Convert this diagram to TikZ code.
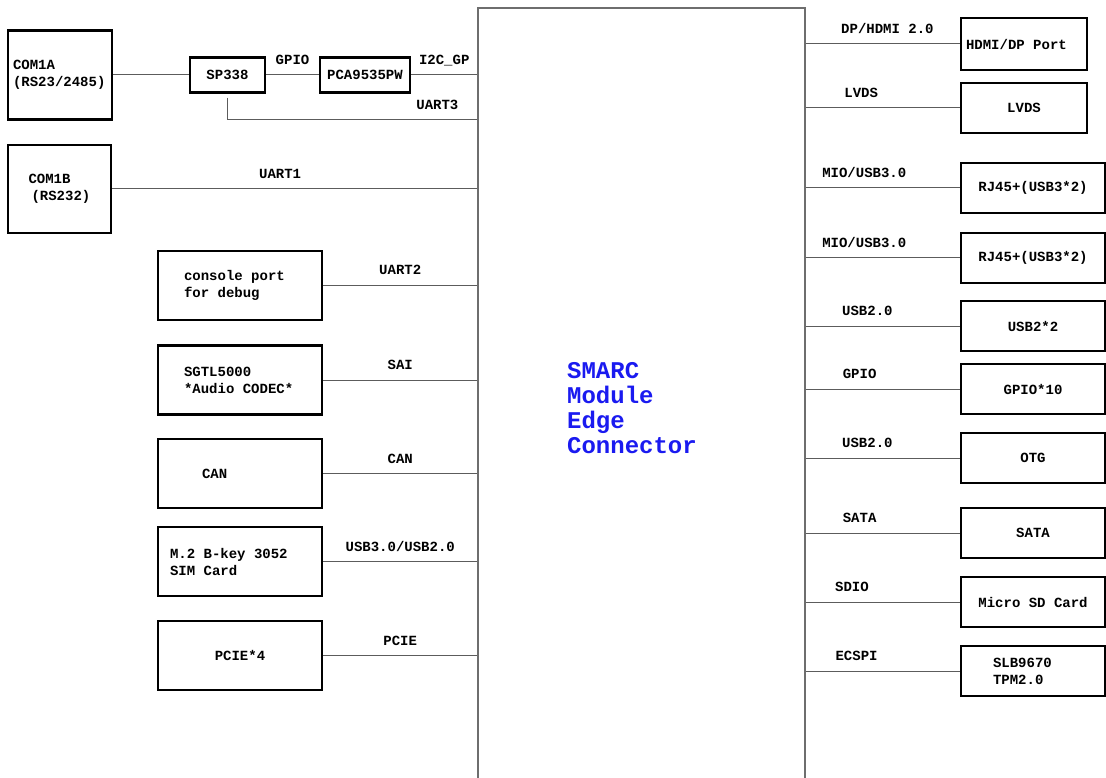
\documentclass[tikz,border=0pt]{standalone}
\usepackage{fontspec}
\newfontfamily\courfont[WordSpace={1,0,0}]{Liberation Mono}
\usetikzlibrary{positioning}
\definecolor{cwire}{HTML}{5C5C5C}
\definecolor{cframe}{HTML}{6E6E6E}
\definecolor{cblue}{HTML}{1A1AF0}
\newcommand{\lblfont}{\courfont\bfseries\fontsize{14}{17}\selectfont}
\tikzset{
  every picture/.style={x=1pt, y=-1pt},
  blk/.style={draw=black, line width=2.2pt, align=flush left, font=\lblfont, inner sep=4pt},
  lbox/.style={blk, minimum width=164, minimum height=69},
  rbox/.style={blk, minimum width=144, minimum height=50},
  wire/.style={draw=cwire, line width=1pt},
  tag/.style={font=\lblfont, above=6pt, inner sep=1pt, text height=9pt, text depth=3pt},
  conn/.style={draw=cframe, line width=1.3pt},
  title/.style={font=\courfont\bfseries\fontsize{24}{25}\selectfont, text=cblue, align=flush left},
}
\begin{document}
\begin{tikzpicture}
  \useasboundingbox (0,0) rectangle (1106,778);
  % edge connector
  \node[conn, minimum width=327, minimum height=774] (smarc) at (641.5,395) {};
  \node[title] (smarctxt) at (632,408) {SMARC\\Module\\Edge\\Connector};
  % left side
  \node[blk, minimum width=104, minimum height=89, text width=94] (com1a) at (60,75) {COM1A\\(RS23/2485)};
  \node[blk, minimum width=75, minimum height=35] (sp) at (227.5,75) {SP338};
  \node[blk, minimum width=90, minimum height=35] (pca) at (365,75) {PCA9535PW};
  \node[blk, minimum width=103, minimum height=88, text width=62] (com1b) at (59.5,189) {COM1B\\\hspace*{3pt}(RS232)};
  \node[lbox, text width=112] (dbg) at (240,285.5) {console port\\for debug};
  \node[lbox, text width=112] (codec) at (240,380) {SGTL5000\\{}*Audio CODEC*};
  \node[lbox, text width=76] (can) at (240,473.5) {CAN};
  \node[lbox, text width=140] (m2) at (240,561.5) {M.2 B-key 3052\\SIM Card};
  \node[lbox] (pcie) at (240,655.5) {PCIE*4};
  \draw[wire] (com1a) -- (sp);
  \draw[wire] (sp) -- node[tag]{GPIO} (pca);
  \draw[wire] (pca) -- node[tag]{I2C\_GP} (pca -| smarc.west);
  \draw[wire] ([yshift=-4pt]sp.south) |- node[tag, pos=0.92]{UART3} (smarc.west |- 0,120);
  \draw[wire] (com1b) -- node[tag, pos=0.46]{UART1} (com1b -| smarc.west);
  \foreach \b/\t in {dbg/UART2, codec/SAI, can/CAN, m2/{USB3.0/USB2.0}, pcie/PCIE}
    \draw[wire] (\b) -- node[tag]{\t} (\b -| smarc.west);
  % right side
  \node[blk, minimum width=126, minimum height=52, text width=116] (hdmi) at (1024,44) {HDMI/DP Port};
  \node[blk, minimum width=126, minimum height=50] (lvds) at (1024,108) {LVDS};
  \node[rbox] (rja) at (1033,188) {RJ45+(USB3*2)};
  \node[rbox] (rjb) at (1033,258) {RJ45+(USB3*2)};
  \node[rbox] (usb) at (1033,326) {USB2*2};
  \node[rbox] (gpio) at (1033,389) {GPIO*10};
  \node[rbox] (otg) at (1033,458) {OTG};
  \node[rbox] (sata) at (1033,533) {SATA};
  \node[rbox] (sd) at (1033,602) {Micro SD Card};
  \node[rbox, text width=80] (tpm) at (1033,671) {SLB9670\\TPM2.0};
  \foreach \b/\t/\p in {hdmi/{DP/HDMI 2.0}/0.53, lvds/LVDS/0.36, rja/{MIO/USB3.0}/0.38,
      rjb/{MIO/USB3.0}/0.38, usb/USB2.0/0.40, gpio/GPIO/0.35, otg/USB2.0/0.40,
      sata/SATA/0.35, sd/SDIO/0.30, tpm/ECSPI/0.33}
    \draw[wire] (\b.west -| smarc.east) -- node[tag, pos=\p]{\t} (\b.west);
\end{tikzpicture}
\end{document}
